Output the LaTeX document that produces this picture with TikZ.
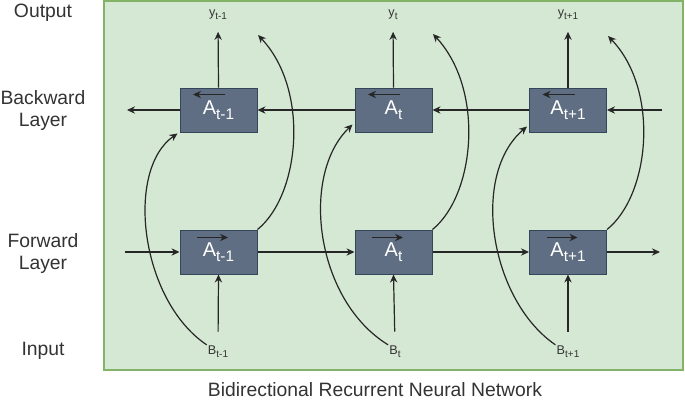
\documentclass[tikz,border=0pt]{standalone}
\usepackage{fontspec}
\setmainfont{Liberation Sans}
\usetikzlibrary{arrows.meta,calc}
\definecolor{panelfill}{HTML}{D5E8D4}
\definecolor{panelline}{HTML}{82B366}
\definecolor{cellfill}{HTML}{5F6E82}
\definecolor{cellline}{HTML}{34465A}
\definecolor{labelgray}{HTML}{333333}
\newcommand{\idx}[1]{\raisebox{-0.45ex}{\fontsize{11.5}{13}\selectfont #1}}
\newcommand{\idxs}[1]{\raisebox{-0.45ex}{\fontsize{7.5}{9}\selectfont #1}}

\begin{document}
\begin{tikzpicture}[x=0.75pt,y=0.75pt,yscale=-1,xscale=1,
	cell/.style={draw=cellline,fill=cellfill,line width=0.75,minimum width=57.75pt,minimum height=33pt,inner sep=0pt,text=white,font=\fontsize{15}{17}\selectfont},
	arr/.style={-{Stealth[length=6pt,width=5.5pt]},line width=0.9,color=black!85},
	side/.style={align=center,text=labelgray,font=\fontsize{14.5}{16.5}\selectfont},
	tag/.style={text=labelgray,font=\fontsize{9.5}{11}\selectfont,inner sep=0.75pt}]
	\useasboundingbox (0,0) rectangle (685,401);
	\draw [draw=panelline,fill=panelfill,line width=1] (104,1) rectangle (683,370);
	% cells
	\node [cell] (bk1) at (218.5,110) {A\idx{t-1}};
	\node [cell] (bk2) at (393.5,110) {A\idx{t}};
	\node [cell] (bk3) at (568,110) {A\idx{t+1}};
	\node [cell] (fw1) at (218.5,252) {A\idx{t-1}};
	\node [cell] (fw2) at (393.5,252) {A\idx{t}};
	\node [cell] (fw3) at (568,252) {A\idx{t+1}};
	% outputs and inputs
	\node [tag] (y1) at (218,15) {y\idxs{t-1}};
	\node [tag] (y2) at (393,15) {y\idxs{t}};
	\node [tag] (y3) at (568,15) {y\idxs{t+1}};
	\node [tag] (b1) at (218,352) {B\idxs{t-1}};
	\node [tag] (b2) at (395,352) {B\idxs{t}};
	\node [tag] (b3) at (568,352) {B\idxs{t+1}};
	% side labels
	\node [side] (out) at (43,13) {Output};
	\node [side] (bwd) at (43,110) {Backward\\Layer};
	\node [side] (fwd) at (43,253) {Forward\\Layer};
	\node [side] (inp) at (43,351) {Input};
	\node [side] (cap) at (375,390) {Bidirectional Recurrent Neural Network};
	% free ends
	\coordinate (bkend) at (127,110);
	\coordinate (bkstart) at (662,110);
	\coordinate (fwstart) at (125,252);
	\coordinate (fwend) at (660,252);
	\coordinate (c1) at (258,35);
	\coordinate (c2) at (433,34);
	\coordinate (c3) at (608,36);
	% backward layer
	\draw [arr] (bk1.west) -- (bkend);
	\draw [arr] (bk2.west) -- (bk1.east);
	\draw [arr] (bk3.west) -- (bk2.east);
	\draw [arr] (bkstart) -- (bk3.east);
	% forward layer
	\draw [arr] (fwstart) -- (fw1.west);
	\draw [arr] (fw1.east) -- (fw2.west);
	\draw [arr] (fw2.east) -- (fw3.west);
	\draw [arr] (fw3.east) -- (fwend);
	% outputs
	\draw [arr,shorten >=8pt] (bk1.north) -- (y1.south);
	\draw [arr,shorten >=8pt] (bk2.north) -- (y2.south);
	\draw [arr,shorten >=8pt] (bk3.north) -- (y3.south);
	% inputs
	\draw [arr,shorten <=10pt] (b1.north) -- (fw1.south);
	\draw [arr,shorten <=10pt] (b2.north) -- (fw2.south);
	\draw [arr,shorten <=10pt] (b3.north) -- (fw3.south);
	% forward states to outputs
	\draw [arr] (fw1.north east) .. controls (300,195) and (310,90) .. (c1);
	\draw [arr] (fw2.north east) .. controls (475,195) and (485,90) .. (c2);
	\draw [arr] (fw3.north east) .. controls (650,195) and (660,90) .. (c3);
	% inputs to backward states
	\draw [arr] (b1.north west) .. controls (140,300) and (125,170) .. ($(bk1.south west)+(-2,1)$);
	\draw [arr] (b2.north west) .. controls (315,300) and (300,175) .. ($(bk2.south west)+(-2,-8)$);
	\draw [arr] (b3.north west) .. controls (490,300) and (470,175) .. ($(bk3.south west)+(-2,-6)$);
	% direction marks
	\draw [arr] ($(bk1.north)+(6.5,7)$) -- ($(bk1.north)+(-25.5,7)$);
	\draw [arr] ($(bk2.north)+(6.5,7)$) -- ($(bk2.north)+(-25.5,7)$);
	\draw [arr] ($(bk3.north)+(6.5,7)$) -- ($(bk3.north)+(-25.5,7)$);
	\draw [arr] ($(fw1.north)+(-21.5,8)$) -- ($(fw1.north)+(9.5,8)$);
	\draw [arr] ($(fw2.north)+(-21.5,8)$) -- ($(fw2.north)+(9.5,8)$);
	\draw [arr] ($(fw3.north)+(-21.5,8)$) -- ($(fw3.north)+(9.5,8)$);
\end{tikzpicture}
\end{document}
